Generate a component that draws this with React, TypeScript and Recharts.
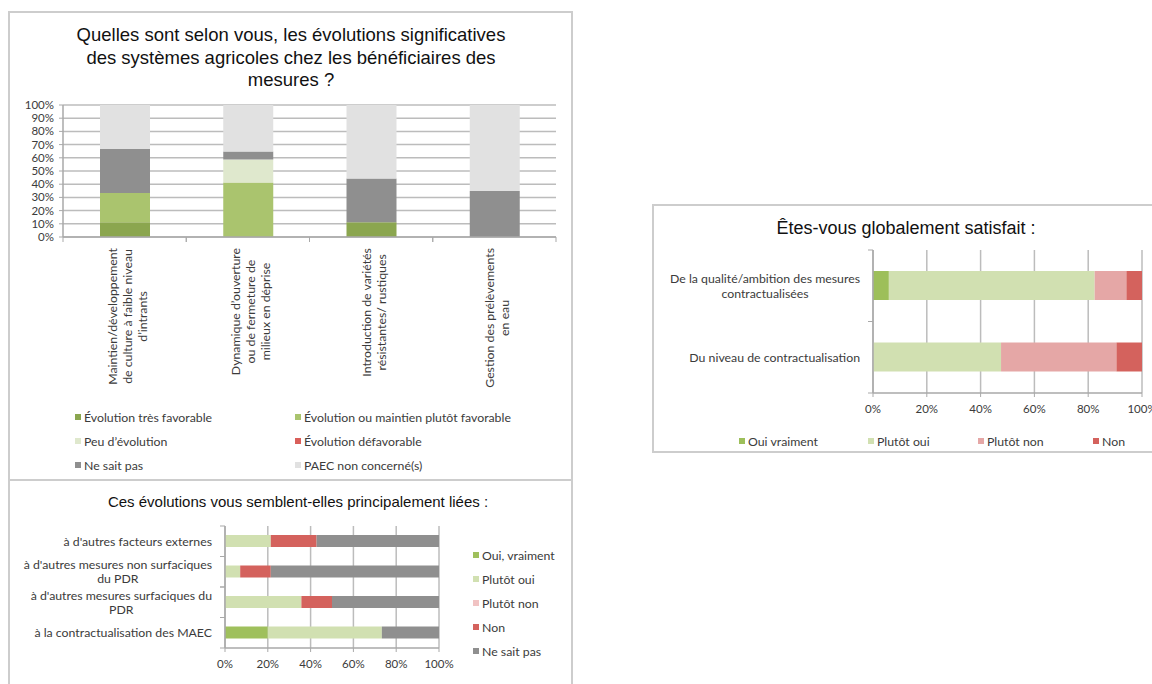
import React from "react";
import { BarChart, Bar, XAxis, YAxis, CartesianGrid } from "recharts";

const LABEL_FONT = "Lato, 'Open Sans', sans-serif";
const TITLE_FONT = "'Liberation Sans', Arial, sans-serif";
const TEXT = "#3b3b3b";
const AXIS = "#a9a9a9";
const GRID = "#bcbcbc";
const PANEL_BORDER = "2px solid #cdcdcd";
const CAT_FONT_SIZE = 12.3;

// ---- Évolutions des systèmes agricoles (colonnes empilées)
const evolutionLabels = [
  "Maintien/développement\nde culture à faible niveau\nd’intrants",
  "Dynamique d’ouverture\nou de fermeture de\nmilieux en déprise",
  "Introduction de variétés\nrésistantes/ rustiques",
  "Gestion des prélèvements\nen eau",
];
const evolTresFavorable = [11.1, 0, 11.1, 0];
const evolPlutotFavorable = [22.2, 41.2, 0, 0];
const evolPeuEvolution = [0, 17.6, 0, 0];
const evolDefavorable = [0, 0, 0, 0];
const evolNeSaitPas = [33.3, 5.9, 33.3, 34.8];
const evolNonConcerne = [33.4, 35.3, 55.6, 65.2];
const evolutionTicks = [0, 10, 20, 30, 40, 50, 60, 70, 80, 90, 100];

const evolutionSeries = [
  { key: "tresFavorable", name: "Évolution très favorable", color: "#8ba64f", values: evolTresFavorable },
  { key: "plutotFavorable", name: "Évolution ou maintien plutôt favorable", color: "#aac46e", values: evolPlutotFavorable },
  { key: "peuEvolution", name: "Peu d’évolution", color: "#dfe8cd", values: evolPeuEvolution },
  { key: "defavorable", name: "Évolution défavorable", color: "#d95f5a", values: evolDefavorable },
  { key: "neSaitPas", name: "Ne sait pas", color: "#8f8f8f", values: evolNeSaitPas },
  { key: "nonConcerne", name: "PAEC non concerné(s)", color: "#e1e1e1", values: evolNonConcerne },
];

// ---- Liens des évolutions (barres horizontales empilées)
const lienLabels = [
  "à d'autres facteurs externes",
  "à d'autres mesures non surfaciques\ndu PDR",
  "à d'autres mesures surfaciques du\nPDR",
  "à la contractualisation des MAEC",
];
const lienOuiVraiment = [0, 0, 0, 20];
const lienPlutotOui = [21.4, 7.1, 35.7, 53.3];
const lienPlutotNon = [0, 0, 0, 0];
const lienNon = [21.4, 14.3, 14.3, 0];
const lienNeSaitPas = [57.2, 78.6, 50, 26.7];

const lienSeries = [
  { key: "ouiVraiment", name: "Oui, vraiment", color: "#9fc05c", values: lienOuiVraiment },
  { key: "plutotOui", name: "Plutôt oui", color: "#d1e0b1", values: lienPlutotOui },
  { key: "plutotNon", name: "Plutôt non", color: "#f1c3c3", values: lienPlutotNon },
  { key: "non", name: "Non", color: "#d4625d", values: lienNon },
  { key: "neSaitPas", name: "Ne sait pas", color: "#8f8f8f", values: lienNeSaitPas },
];

// ---- Satisfaction globale
const satisfactionLabels = [
  "De la qualité/ambition des mesures\ncontractualisées",
  "Du niveau de contractualisation",
];
const satOuiVraiment = [5.9, 0];
const satPlutotOui = [76.5, 47.6];
const satPlutotNon = [11.8, 42.9];
const satNon = [5.8, 9.5];

const satisfactionSeries = [
  { key: "ouiVraiment", name: "Oui vraiment", color: "#9dbf5a", values: satOuiVraiment },
  { key: "plutotOui", name: "Plutôt oui", color: "#d1e0b1", values: satPlutotOui },
  { key: "plutotNon", name: "Plutôt non", color: "#e5a7a6", values: satPlutotNon },
  { key: "non", name: "Non", color: "#d4625d", values: satNon },
];

const percentTicks = [0, 20, 40, 60, 80, 100];

type Series = { key: string; name: string; color: string; values: number[] };

function buildRows(labels: string[], series: Series[]) {
  return labels.map((name, i) => {
    const row: Record<string, string | number> = { name };
    series.forEach((s) => (row[s.key] = s.values[i]));
    return row;
  });
}

const evolutionData = buildRows(evolutionLabels, evolutionSeries);
const lienData = buildRows(lienLabels, lienSeries);
const satisfactionData = buildRows(satisfactionLabels, satisfactionSeries);

let measureCtx: CanvasRenderingContext2D | null = null;
function measure(text: string, font: string): number {
  if (!measureCtx && typeof document !== "undefined") {
    measureCtx = document.createElement("canvas").getContext("2d");
  }
  if (!measureCtx) return text.length * 6;
  measureCtx.font = font;
  return measureCtx.measureText(text).width;
}

// category labels under the columns, rotated and centred line by line
function RotatedTick(props: any) {
  const { x, y, payload, width, visibleTicksCount, margin, fontSize, lineHeight } = props;
  const lines = String(payload.value).split("\n");
  const font = `${fontSize}px Lato`;
  const maxW = Math.max(...lines.map((l: string) => measure(l, font)));
  const band = width / (visibleTicksCount || 1);
  const axisY = y - margin;
  const n = lines.length;
  return (
    <g>
      <line x1={x - band / 2} x2={x - band / 2} y1={axisY} y2={axisY + 5} stroke={AXIS} />
      <line x1={x + band / 2} x2={x + band / 2} y1={axisY} y2={axisY + 5} stroke={AXIS} />
      <g transform={`translate(${x + 3},${y})`}>
        {lines.map((l: string, i: number) => (
          <text
            key={i}
            transform="rotate(-90)"
            x={-maxW / 2}
            y={(i - (n - 1) / 2) * lineHeight + fontSize * 0.35}
            textAnchor="middle"
            fontSize={fontSize}
            fontFamily={LABEL_FONT}
            fill={TEXT}
          >
            {l}
          </text>
        ))}
      </g>
    </g>
  );
}

// wrapped category labels left of the horizontal bars
function WrappedYTick(props: any) {
  const { x, y, payload, height, visibleTicksCount, margin, fontSize, lineHeight } = props;
  const lines = String(payload.value).split("\n");
  const font = `${fontSize}px Lato`;
  const maxW = Math.max(...lines.map((l: string) => measure(l, font)));
  const band = height / (visibleTicksCount || 1);
  const axisX = x + margin;
  const cx = x - maxW / 2;
  const n = lines.length;
  return (
    <g>
      <line x1={axisX - 5} x2={axisX} y1={y - band / 2} y2={y - band / 2} stroke={AXIS} />
      <line x1={axisX - 5} x2={axisX} y1={y + band / 2} y2={y + band / 2} stroke={AXIS} />
      {lines.map((l: string, i: number) => (
        <text
          key={i}
          x={cx}
          y={y + (i - (n - 1) / 2) * lineHeight}
          dy="0.35em"
          textAnchor="middle"
          fontSize={fontSize}
          fontFamily={LABEL_FONT}
          fill={TEXT}
        >
          {l}
        </text>
      ))}
    </g>
  );
}

function LegendItem({ x, y, color, label, fontSize = CAT_FONT_SIZE }: { x: number; y: number; color: string; label: string; fontSize?: number }) {
  return (
    <div
      style={{
        position: "absolute",
        left: x,
        top: y - 8,
        height: 16,
        display: "flex",
        alignItems: "center",
        whiteSpace: "nowrap",
        fontFamily: LABEL_FONT,
        fontSize,
        color: TEXT,
      }}
    >
      <span style={{ display: "inline-block", width: 6, height: 6, background: color, marginRight: 3 }} />
      {label}
    </div>
  );
}

const pct = (v: number) => `${v}%`;

export default function App() {
  return (
    <div
      style={{
        position: "absolute",
        left: 0,
        top: 0,
        width: 1152,
        height: 684,
        background: "#fff",
        overflow: "hidden",
      }}
    >
      {/* panneaux */}
      <div style={{ position: "absolute", left: 8, top: 11, width: 561, height: 468, border: PANEL_BORDER, borderBottom: "none" }} />
      <div style={{ position: "absolute", left: 8, top: 479, width: 561, height: 220, border: PANEL_BORDER }} />
      <div style={{ position: "absolute", left: 652, top: 204, width: 520, height: 245, border: PANEL_BORDER }} />

      {/* graphique 1 */}
      <div
        style={{
          position: "absolute",
          left: 0,
          top: 24,
          width: 582,
          textAlign: "center",
          fontFamily: TITLE_FONT,
          fontSize: 18.5,
          lineHeight: "22.5px",
          color: "#111",
        }}
      >
        Quelles sont selon vous, les évolutions significatives
        <br />
        des systèmes agricoles chez les bénéficiaires des
        <br />
        mesures ?
      </div>
      <div style={{ position: "absolute", left: 0, top: 0 }}>
        <BarChart
          width={580}
          height={480}
          data={evolutionData}
          margin={{ top: 105, right: 24, left: 13, bottom: 83 }}
          barSize={50}
        >
          <CartesianGrid vertical={false} stroke={GRID} strokeWidth={1.5} />
          <XAxis
            dataKey="name"
            interval={0}
            height={160}
            tickLine={false}
            tickSize={0}
            tickMargin={11}
            axisLine={{ stroke: AXIS, strokeWidth: 1.5 }}
            tick={(p: any) => <RotatedTick {...p} margin={11} fontSize={CAT_FONT_SIZE} lineHeight={15} />}
          />
          <YAxis
            type="number"
            domain={[0, 100]}
            allowDataOverflow
            ticks={evolutionTicks}
            interval={0}
            width={50}
            tickFormatter={pct}
            tickSize={4}
            tickMargin={5}
            axisLine={{ stroke: AXIS, strokeWidth: 1.5 }}
            tickLine={{ stroke: AXIS }}
            tick={{ fontSize: 11.5, fontFamily: LABEL_FONT, fill: TEXT }}
          />
          {evolutionSeries.map((s) => (
            <Bar key={s.key} dataKey={s.key} name={s.name} stackId="a" fill={s.color} isAnimationActive={false} />
          ))}
        </BarChart>
      </div>
      {evolutionSeries.map((s, i) => (
        <LegendItem key={s.key} x={75} y={417 + Math.floor(i / 2) * 24} color={s.color} label={s.name} {...(i % 2 === 1 ? { x: 295 } : {})} />
      ))}

      {/* graphique 2 */}
      <div
        style={{
          position: "absolute",
          left: 8,
          top: 493,
          width: 580,
          textAlign: "center",
          fontFamily: TITLE_FONT,
          fontSize: 15,
          lineHeight: "18px",
          color: "#111",
        }}
      >
        Ces évolutions vous semblent-elles principalement liées :
      </div>
      <div style={{ position: "absolute", left: 0, top: 480 }}>
        <BarChart
          width={580}
          height={204}
          data={lienData}
          layout="vertical"
          margin={{ top: 46, right: 141, left: 25, bottom: 6 }}
          barSize={12}
        >
          <CartesianGrid horizontal={false} stroke={GRID} strokeWidth={1.5} />
          <XAxis
            type="number"
            domain={[0, 100]}
            allowDataOverflow
            ticks={percentTicks}
            interval={0}
            height={30}
            tickFormatter={pct}
            tickSize={4}
            tickMargin={8}
            axisLine={{ stroke: AXIS, strokeWidth: 1.5 }}
            tickLine={{ stroke: AXIS }}
            tick={{ fontSize: 11.5, fontFamily: LABEL_FONT, fill: TEXT }}
          />
          <YAxis
            type="category"
            dataKey="name"
            width={200}
            interval={0}
            tickLine={false}
            tickSize={0}
            tickMargin={13}
            axisLine={{ stroke: AXIS, strokeWidth: 1.5 }}
            tick={(p: any) => <WrappedYTick {...p} margin={13} fontSize={CAT_FONT_SIZE} lineHeight={14} />}
          />
          {lienSeries.map((s) => (
            <Bar key={s.key} dataKey={s.key} name={s.name} stackId="a" fill={s.color} isAnimationActive={false} />
          ))}
        </BarChart>
      </div>
      {lienSeries.map((s, i) => (
        <LegendItem key={s.key} x={473} y={555 + i * 24} color={s.color} label={s.name} />
      ))}

      {/* graphique 3 */}
      <div
        style={{
          position: "absolute",
          left: 652,
          top: 217,
          width: 508,
          textAlign: "center",
          fontFamily: TITLE_FONT,
          fontSize: 18,
          lineHeight: "22px",
          color: "#111",
        }}
      >
        Êtes-vous globalement satisfait :
      </div>
      <div style={{ position: "absolute", left: 640, top: 200 }}>
        <BarChart
          width={512}
          height={260}
          data={satisfactionData}
          layout="vertical"
          margin={{ top: 50, right: 10, left: 33, bottom: 37 }}
          barSize={29}
        >
          <CartesianGrid horizontal={false} stroke={GRID} strokeWidth={1.5} />
          <XAxis
            type="number"
            domain={[0, 100]}
            allowDataOverflow
            ticks={percentTicks}
            interval={0}
            height={30}
            tickFormatter={pct}
            tickSize={4}
            tickMargin={8}
            axisLine={{ stroke: AXIS, strokeWidth: 1.5 }}
            tickLine={{ stroke: AXIS }}
            tick={{ fontSize: 11.5, fontFamily: LABEL_FONT, fill: TEXT }}
          />
          <YAxis
            type="category"
            dataKey="name"
            width={200}
            interval={0}
            tickLine={false}
            tickSize={0}
            tickMargin={13}
            axisLine={{ stroke: AXIS, strokeWidth: 1.5 }}
            tick={(p: any) => <WrappedYTick {...p} margin={13} fontSize={CAT_FONT_SIZE} lineHeight={15} />}
          />
          {satisfactionSeries.map((s) => (
            <Bar key={s.key} dataKey={s.key} name={s.name} stackId="a" fill={s.color} isAnimationActive={false} />
          ))}
        </BarChart>
      </div>
      {satisfactionSeries.map((s, i) => (
        <LegendItem key={s.key} x={[739, 868, 978, 1093][i]} y={441} color={s.color} label={s.name} />
      ))}
    </div>
  );
}
